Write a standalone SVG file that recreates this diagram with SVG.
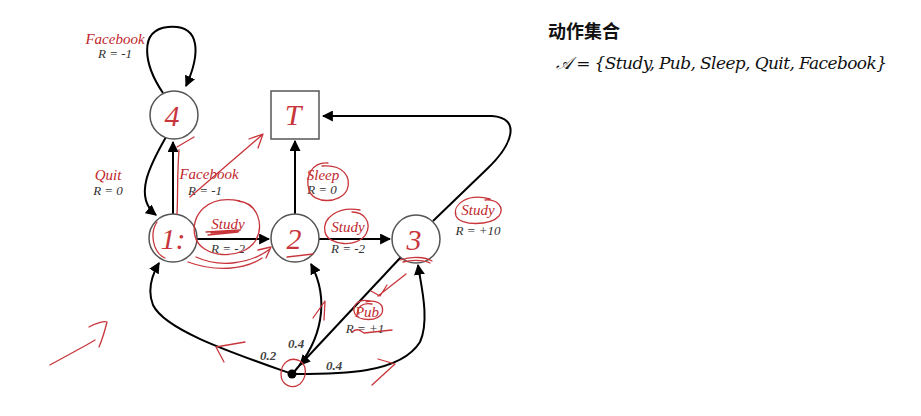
<svg xmlns="http://www.w3.org/2000/svg" width="921" height="416" viewBox="0 0 921 416">
<style>
.st{fill:#fff;stroke:#555;stroke-width:1.5}
.e{fill:none;stroke:#000;stroke-width:2}
.act{font-family:"Liberation Serif",serif;font-style:italic;font-size:15px;fill:#c0282d;text-anchor:middle}
.rw{font-family:"Liberation Serif",serif;font-style:italic;font-size:13px;fill:#333;text-anchor:middle}
.pr{font-family:"Liberation Serif",serif;font-style:italic;font-weight:bold;font-size:13px;fill:#444;text-anchor:middle}
.hw{font-family:"Liberation Serif",serif;font-style:italic;font-size:30px;fill:#c8363b;text-anchor:middle}
.red{fill:none;stroke:#c8363b;stroke-width:1.3;stroke-linecap:round;stroke-linejoin:round}
</style>
<defs>
<marker id="ah" viewBox="0 0 10 10" refX="9" refY="5" markerWidth="5.5" markerHeight="5.5" markerUnits="strokeWidth" orient="auto">
<path d="M0,0 L10,5 L0,10 Z" fill="#000"/>
</marker>
</defs>
<rect width="921" height="416" fill="#fff"/>

<g id="connectors">
<path class="e" d="M163,93 C144,65 138,30 168,27 C202,24 200,55 186,86" marker-end="url(#ah)"/>
<path class="e" d="M166,137 C150,165 133,197 156,215" marker-end="url(#ah)"/>
<path class="e" d="M173,214 L173,142" marker-end="url(#ah)"/>
<path class="e" d="M197,239 L269,239" marker-end="url(#ah)"/>
<path class="e" d="M295,214 L295,141" marker-end="url(#ah)"/>
<path class="e" d="M319,239 L390,239" marker-end="url(#ah)"/>
<path class="e" d="M433,221 L488,168 C512,145 522,118 492,116 L323,116" marker-end="url(#ah)"/>
<path class="e" d="M292,374 C230,352 165,330 153,305 C147,290 152,275 159,263" marker-end="url(#ah)"/>
<path class="e" d="M294,372 C322,340 330,300 311,264" marker-end="url(#ah)"/>
<path class="e" d="M296,374 C340,374 400,374 420,342 C430,320 421,285 418,265" marker-end="url(#ah)"/>
<path class="e" d="M401,257 L300,365" marker-end="url(#ah)"/>
</g>

<g id="n4"><circle class="st" cx="174" cy="115" r="24"/><text class="hw" x="172" y="126">4</text></g>
<g id="n1"><circle class="st" cx="173" cy="238" r="24"/><text class="hw" x="173" y="249">1:</text></g>
<g id="n2"><circle class="st" cx="295" cy="238" r="24"/><text class="hw" x="294" y="249">2</text></g>
<g id="n3"><circle class="st" cx="416" cy="239" r="24"/><text class="hw" x="414" y="250">3</text></g>
<g id="nT"><rect class="st" x="271" y="91" width="48" height="48"/><text class="hw" x="293" y="125">T</text></g>
<g id="pub"><circle cx="292" cy="374" r="4.5" fill="#000"/></g>

<g id="labels">
<text class="act" x="115" y="44">Facebook</text><text class="rw" x="115" y="58">R = -1</text>
<text class="act" x="108" y="180">Quit</text><text class="rw" x="108" y="195">R = 0</text>
<text class="act" x="209" y="179">Facebook</text><text class="rw" x="205" y="195">R = -1</text>
<text class="act" x="323" y="180">Sleep</text><text class="rw" x="322" y="194">R = 0</text>
<text class="act" x="228" y="229">Study</text><text class="rw" x="228" y="253">R = -2</text>
<text class="act" x="348" y="232">Study</text><text class="rw" x="348" y="253">R = -2</text>
<text class="act" x="478" y="215">Study</text><text class="rw" x="478" y="235">R = +10</text>
<text class="act" x="367" y="317">Pub</text><text class="rw" x="365" y="333">R = +1</text>
<text class="pr" x="268" y="360">0.2</text>
<text class="pr" x="296" y="348">0.4</text>
<text class="pr" x="334" y="370">0.4</text>
</g>

<g id="legend">
<text x="548" y="38" font-family="'Noto Sans CJK SC',sans-serif" font-weight="bold" font-size="18" fill="#111">动作集合</text>
<text x="556" y="69" font-family="'DejaVu Serif','Liberation Serif',serif" font-style="italic" font-size="17" fill="#111" textLength="331" lengthAdjust="spacing">𝒜 = {Study, Pub, Sleep, Quit, Facebook}</text>
</g>

<g id="annotations">
<path class="red" d="M50,365 C70,354 85,346 95,340 M89,327 C96,323 104,321 107,322 C105,330 102,340 99,347"/>
<path class="red" d="M190,197 L262,135 M249,139 L263,134 L258,148"/>
<path class="red" d="M177,147 L194,137"/>
<path class="red" d="M179,150 C177,175 178,195 177,214"/>
<path class="red" d="M240,201 C208,194 190,215 195,236 C200,258 242,262 256,240 C264,225 258,203 238,201"/>
<path class="red" d="M196,257 C220,268 250,264 270,249 M258,250 L271,247 L266,258"/>
<path class="red" d="M188,262 C215,272 245,270 262,258"/>
<path class="red" d="M206,232 L240,230 M208,235 L238,232 M211,233 L236,231"/>
<path class="red" d="M157,222 C150,232 152,252 165,258"/>
<path class="red" d="M328,163 C312,162 305,176 309,190 C313,204 340,204 347,190 C352,177 343,164 322,166"/>
<path class="red" d="M360,210 C338,206 322,218 325,232 C328,246 358,248 366,234 C372,222 364,212 352,212"/>
<path class="red" d="M490,199 C468,193 452,204 456,216 C460,226 490,226 499,216 C505,207 497,199 485,200"/>
<path class="red" d="M370,301 C358,298 351,306 355,314 C359,321 378,322 382,313 C385,304 376,299 366,302 M372,304 C362,302 356,308 359,314"/>
<path class="red" d="M352,332 C357,328 360,330 364,333 L392,330"/>
<path class="red" d="M406,274 L378,296 M371,291 L380,296 L387,285"/>
<path class="red" d="M313,318 L325,301 L324,320"/>
<path class="red" d="M245,342 L216,347 L224,362"/>
<path class="red" d="M378,359 L395,364 L372,385"/>
<path class="red" d="M300,361 C290,356 281,363 281,374 C281,385 292,390 300,384 C307,377 308,364 298,360"/>
<path class="red" d="M287,257 L313,254"/>
<path class="red" d="M400,260 C412,256 425,257 432,261 M403,262 C415,259 426,261 430,263"/>
</g>
</svg>
